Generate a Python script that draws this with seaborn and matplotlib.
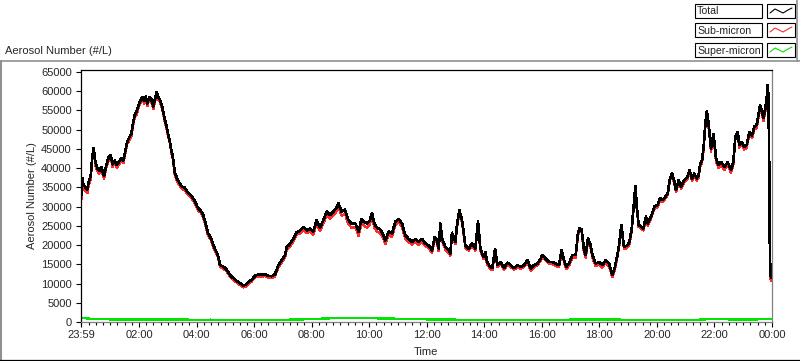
import numpy as np
import pandas as pd
import matplotlib
matplotlib.use("Agg")
import matplotlib.pyplot as plt
from matplotlib.lines import Line2D
from matplotlib.patches import Rectangle
import seaborn as sns

# minutes after 23:59, total aerosol number (#/L)
total_t = [0, 1, 3, 4.2, 9, 13.2, 16.7, 20.2, 23.6, 26.4, 29.9, 34, 38.2, 42.4, 48, 52.8, 57.7, 61.9,
           66, 70.2, 75, 80, 84, 88.3, 92.4, 96.6, 100.8, 105, 108.4, 112, 116, 120, 124.4, 128,
           131.4, 134.8, 138.3, 142.5, 146.6, 150.8, 154.3, 157.8, 161.2, 164.7, 168.2, 171.6, 174.4,
           177.9, 181.4, 184.8, 188.3, 191.8, 195.3, 200.2, 205.7, 210.6, 216.1, 221.7, 227.3, 233.5,
           238.4, 244, 249.5, 254.4, 259.2, 264.8, 270.4, 275.2, 280.1, 285.6,
           290, 296.9, 303.8, 310.8, 317.7, 324.7, 331.6, 338.6, 343.4, 349, 356, 362.9, 369.9, 376.8,
           383.8, 390.7, 397.7, 404.6, 411.6, 418.5, 425.5, 429, 435.9, 442.8, 449.8, 456.7, 463.7,
           470.6, 477.6, 484.5, 491.5, 498.4, 505.4, 512.3, 519.3, 526.2, 531.8, 536.7, 543.6, 550.6,
           557.5, 564.5, 572.2, 579.1, 584.7, 589.5, 596.5, 602, 606.9, 611.8, 617.3, 624.3, 631.2,
           634.7, 641.7, 648.6, 655.6, 662.5, 669.5, 672.9, 676.4, 683.4, 690.3, 697.3, 704.2, 711.2,
           718.1, 725.1, 732, 737.6, 742.4, 745.9, 749.4, 752.9, 759.8, 766.8, 770.2, 773.7, 780.7,
           784.1, 789, 794.6, 801.5, 808.5, 815.4, 822.4, 827.9, 832.8, 839.7, 843.2, 846.7, 853.6,
           857.9, 863.4, 868.3, 875.2, 882.2, 889.1, 896.1, 903, 910, 916.9, 923.9, 930.8, 937.8,
           944.7, 951.7, 958.6, 962.1, 969.1, 976, 983, 989.9, 996.9, 1002.4, 1007.3, 1012.1, 1017.7,
           1024.7, 1031.6, 1036.5, 1040, 1044.1, 1049, 1052.5, 1057.3, 1062.9, 1066.4, 1073.3,
           1080.3, 1087.2, 1094.2, 1101.1, 1108.1, 1113.6, 1118.5, 1122, 1126.8, 1132.4, 1139.3,
           1143.6, 1148.4, 1151.9, 1156.1, 1158.8, 1163, 1167.9, 1172.7, 1178.3, 1181.8, 1188.7,
           1195.7, 1202.6, 1207.5, 1213.1, 1218.6, 1223.5, 1228.3, 1232.5, 1237.4, 1240.9, 1246.4,
           1251.3, 1258.2, 1265.2, 1268.7, 1274.2, 1279.1, 1284, 1288.1, 1290.9, 1295.1, 1298.5,
           1301.3, 1304.8, 1306.9, 1310.4, 1313.8, 1318.7, 1320.8, 1324.3, 1329.8, 1334.7, 1341.6,
           1348.6, 1355.5, 1360.4, 1364.6, 1369.4, 1372.9, 1378.5, 1383.3, 1388.2, 1393.8, 1399.3,
           1404.2, 1409, 1413.2, 1416, 1420.2, 1423, 1427.1, 1429.9, 1432, 1433.4, 1434.8, 1436.2,
           1437.6, 1439.7, 1441]
total_v = [37000, 33000, 37500, 36100, 35000, 34500, 36800, 38000, 43000, 45200, 41500, 40000, 39300,
           40300, 38000, 40800, 42800, 43400, 41000, 42000, 40800, 41800, 42600, 42000, 44500, 47000,
           48000, 49000, 51600, 53800, 54700, 56400, 57800, 58500, 57500, 58600, 56800, 58500, 58000,
           56000, 58000, 59800, 58500, 57800, 56500, 54500, 52900, 51200, 49000, 47300, 44700, 42700,
           39100, 37300, 36100, 35200, 35000, 33900, 33200, 32200, 31200, 29600, 29000, 28000, 25900,
           23100, 22000, 20300, 18800, 17400,
           14800, 14400, 13600, 12200, 11400, 10700, 10100, 9450, 9700, 10400, 11000, 12000, 12400,
           12300, 12400, 12000, 11900, 12400, 14800, 16000, 17400, 19500, 20300, 21600, 23400, 23700,
           24700, 23800, 24300, 23500, 26500, 24500, 26500, 28700, 27800, 28700, 29600, 30900, 28700,
           29200, 26500, 25500, 25600, 23400, 26800, 26100, 25600, 26300, 28300, 25600, 24500, 24000,
           22500, 21200, 23500, 23000, 26100, 26800, 25600, 23900, 22500, 21600, 20800, 21600, 20800,
           21600, 20400, 19900, 18600, 22100, 21200, 19100, 25600, 21800, 19500, 18600, 17800, 23200,
           20900, 25200, 29100, 26500, 19900, 19100, 20500, 19100, 26100, 19100, 16900, 18200, 15600,
           14300, 14000, 19000, 14800, 15600, 14000, 15400, 14800, 14000, 14800, 14300, 14800, 16100,
           13900, 14800, 15200, 16500, 17400, 16500, 15600, 15600, 15200, 14800, 18700, 16100, 14400,
           15200, 17400, 17400, 23200, 24400, 24000, 18600, 17400, 21700, 19900, 17400, 15200, 15600,
           14800, 16100, 15200, 12300, 14400, 17400, 20000, 25200, 19500, 19900, 20800, 24100, 29300,
           35400, 30200, 25200, 24900, 24300, 27400, 25600, 27400, 30000, 30400, 32200, 31700, 32600,
           33500, 37300, 38700, 36500, 34300, 36900, 35200, 36900, 37800, 39500, 37300, 38600, 37300,
           38200, 40800, 42100, 45600, 50400, 54700, 53400, 49500, 45100, 48900, 46800, 42500, 40800,
           41600, 40300, 41600, 39500, 41600, 48200, 49400, 46000, 46800, 45500, 46000, 49400, 48500,
           50800, 51200, 54200, 56400, 54700, 53000, 55500, 58200, 61600, 59000, 46900, 22600, 12200,
           11400, 11500]

# super-micron (#/L)
super_t = [0, 10, 20, 40, 60, 90, 120, 150, 180, 210, 240, 270, 300, 330, 360, 390, 420, 450, 480,
           510, 540, 570, 600, 630, 660, 690, 720, 750, 780, 810, 840, 870, 900, 930, 960, 990, 1020,
           1050, 1080, 1110, 1140, 1170, 1200, 1230, 1260, 1290, 1320, 1350, 1380, 1410, 1441]
super_v = [950, 1000, 800, 750, 700, 650, 700, 650, 600, 650, 550, 600, 500, 450, 450, 500, 550, 650,
           750, 900, 1100, 1000, 1050, 900, 850, 750, 700, 650, 600, 550, 500, 500, 450, 500, 500, 550,
           600, 650, 700, 650, 550, 500, 500, 500, 550, 600, 850, 700, 650, 700, 750]

tick_pos = [0, 121, 241, 361, 481, 601, 721, 841, 961, 1081, 1201, 1321, 1441]
tick_lab = ["23:59", "02:00", "04:00", "06:00", "08:00", "10:00", "12:00", "14:00", "16:00",
            "18:00", "20:00", "22:00", "00:00"]
series_names = ["Total", "Sub-micron", "Super-micron"]
series_colors = ["#000000", "#ff2a2a", "#00e600"]

sns.set_style("white")
plt.rcParams['font.family'] = ['Liberation Sans', 'DejaVu Sans']
plt.rcParams['font.size'] = 8

df_tot = pd.DataFrame({"t": total_t, "v": total_v})
df_sup = pd.DataFrame({"t": super_t, "v": super_v})
df_sub = df_tot.copy()
df_sub["v"] = df_tot["v"] - np.interp(df_tot["t"], super_t, super_v)

W, H = 800, 361
fig = plt.figure(figsize=(8, 3.61), dpi=100)
ax = fig.add_axes([81 / W, (H - 322) / H, (772 - 81) / W, (322 - 70) / H])

sns.lineplot(data=df_sub, x="t", y="v", ax=ax, color=series_colors[1], lw=1.0,
             estimator=None, sort=False, antialiased=False)
sns.lineplot(data=df_tot, x="t", y="v", ax=ax, color=series_colors[0], lw=1.2,
             estimator=None, sort=False, antialiased=False)
sns.lineplot(data=df_sup, x="t", y="v", ax=ax, color=series_colors[2], lw=1.0,
             estimator=None, sort=False, antialiased=False)

ax.set_xlim(0, 1441)
ax.set_ylim(0, 65520)
ax.set_xticks(tick_pos)
ax.set_xticklabels(tick_lab)
minor = [m for m in np.arange(1, 1441, 15) if m not in tick_pos]
ax.set_xticks(minor, minor=True)
ax.set_yticks(np.arange(0, 65001, 5000))
ax.set_yticklabels([str(v) for v in range(0, 65001, 5000)])
ax.set_xlabel("")
ax.set_ylabel("")
ax.tick_params(axis="both", which="major", direction="out", length=3.6, width=0.8,
               color="black", labelsize=8, bottom=True, left=True)
ax.tick_params(axis="x", which="minor", direction="out", length=2.2, width=0.8,
               color="black", bottom=True)
ax.tick_params(axis="x", pad=2)
ax.tick_params(axis="y", pad=3)
for side, col in [("left", "black"), ("top", "black"), ("bottom", "#808080"), ("right", "#808080")]:
    ax.spines[side].set_visible(True)
    ax.spines[side].set_color(col)
    ax.spines[side].set_linewidth(0.9)


def fx(x):
    return x / W


def fy(y):
    return 1 - y / H


# texts
fig.text(fx(5), fy(46), "Aerosol Number (#/L)", ha="left", va="top", fontsize=8)
fig.text(fx(32), fy(196), "Aerosol Number (#/L)", rotation=90, ha="center", va="center", fontsize=8)
fig.text(fx(426), fy(352), "Time", ha="center", va="center", fontsize=8)

# panel frame
fig.add_artist(Line2D([fx(0), fx(800)], [fy(61), fy(61)], color="#909090", lw=1.2))
fig.add_artist(Line2D([fx(1), fx(1)], [fy(61), fy(360)], color="#909090", lw=1.5))
fig.add_artist(Line2D([fx(0), fx(800)], [fy(360), fy(360)], color="black", lw=0.9))
fig.add_artist(Line2D([fx(797), fx(797)], [fy(0), fy(61)], color="#909090", lw=1.2))

# legend
row_top = [4, 23, 43]
for name, col, y0 in zip(series_names, series_colors, row_top):
    fig.add_artist(Rectangle((fx(695), fy(y0 + 14)), (762 - 695) / W, 14 / H,
                             fill=False, edgecolor="black", lw=0.8, transform=fig.transFigure))
    fig.add_artist(Rectangle((fx(767), fy(y0 + 14)), (795 - 767) / W, 14 / H,
                             fill=False, edgecolor="black", lw=0.8, transform=fig.transFigure))
    fig.text(fx(697), fy(y0 + 7.5), name, ha="left", va="center", fontsize=7.6)
    zx = [770, 775, 779, 783, 788, 792]
    zy = [y0 + 9, y0 + 5, y0 + 7, y0 + 9, y0 + 6, y0 + 4]
    fig.add_artist(Line2D([fx(v) for v in zx], [fy(v) for v in zy], color=col, lw=0.8))

fig.savefig("out.png", dpi=100)
